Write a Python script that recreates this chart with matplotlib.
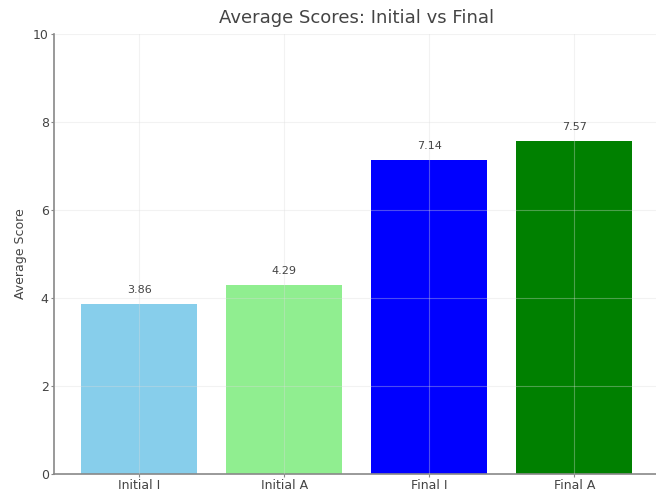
import matplotlib
matplotlib.use("Agg")
import matplotlib.pyplot as plt

categories = ["Initial I", "Initial A", "Final I", "Final A"]
scores = [3.86, 4.29, 7.14, 7.57]
bar_colors = ["skyblue", "lightgreen", "blue", "green"]
y_ticks = [0, 2, 4, 6, 8, 10]

text_color = "#444444"
spine_color = "#888888"

fig = plt.figure(figsize=(6.56, 4.91), dpi=100)
ax = fig.add_axes([0.0816, 0.0346, 0.9246, 0.896])

positions = range(len(categories))
bars = ax.bar(positions, scores, color=bar_colors, width=0.8, zorder=1)

for pos, val in zip(positions, scores):
    ax.text(pos, val + 0.2, f"{val:.2f}", ha="center", va="bottom",
            fontsize=8, color=text_color, zorder=3)

ax.set_xticks(list(positions))
ax.set_xticklabels(categories)
ax.set_yticks(y_ticks)
ax.set_ylim(0, 10)

ax.grid(True, color="#dcdcdc", linewidth=0.8, alpha=0.35, zorder=2)
ax.set_axisbelow(False)

ax.set_title("Average Scores: Initial vs Final", fontsize=13, color=text_color, pad=8)
ax.set_ylabel("Average Score", fontsize=9, color=text_color)

for side in ("top", "right"):
    ax.spines[side].set_visible(False)
for side in ("left", "bottom"):
    ax.spines[side].set_color(spine_color)
    ax.spines[side].set_linewidth(1.2)

ax.tick_params(axis="both", labelsize=9, colors=spine_color, labelcolor=text_color,
               length=2, width=0.8, pad=1.5)

fig.savefig("out.png", dpi=100)
